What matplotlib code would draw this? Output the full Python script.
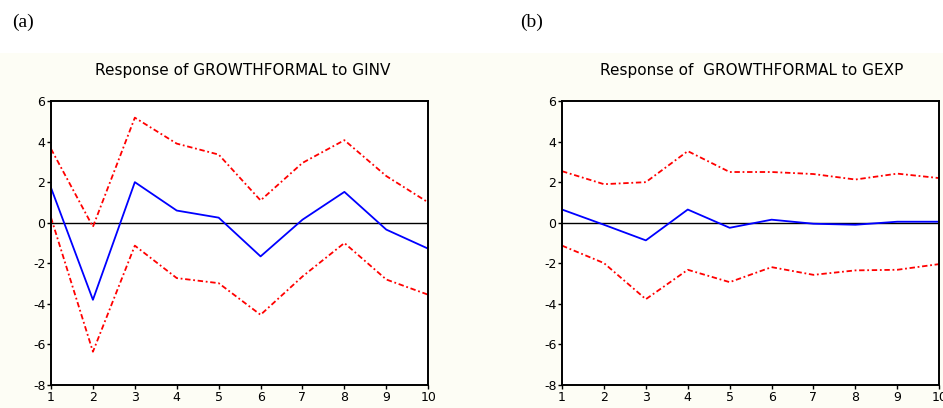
import matplotlib.pyplot as plt
from matplotlib.patches import Rectangle

plt.rcParams['font.family'] = ['DejaVu Sans']
plt.rcParams['axes.unicode_minus'] = False

periods = list(range(1, 11))

# (a) response of GROWTHFORMAL to GINV
ginv_resp = [1.72, -3.8, 2.0, 0.6, 0.25, -1.66, 0.15, 1.52, -0.34, -1.28]
ginv_upper = [3.64, -0.2, 5.18, 3.9, 3.36, 1.1, 2.95, 4.07, 2.3, 1.0]
ginv_lower = [0.25, -6.36, -1.13, -2.73, -2.98, -4.54, -2.65, -1.0, -2.8, -3.55]

# (b) response of GROWTHFORMAL to GEXP
gexp_resp = [0.65, -0.1, -0.87, 0.65, -0.25, 0.15, -0.05, -0.1, 0.05, 0.05]
gexp_upper = [2.54, 1.9, 2.0, 3.53, 2.5, 2.5, 2.4, 2.13, 2.42, 2.2]
gexp_lower = [-1.13, -1.99, -3.77, -2.32, -2.93, -2.19, -2.57, -2.35, -2.32, -2.04]

yticks = [6, 4, 2, 0, -2, -4, -6, -8]

fig = plt.figure(figsize=(9.43, 4.08), dpi=100)
fig.patches.append(Rectangle((0, 0), 1, 0.87, transform=fig.transFigure,
                             facecolor="#fdfdf5", edgecolor="none", zorder=-5))

panels = [
    ("(a)", "Response of GROWTHFORMAL to GINV", ginv_resp, ginv_upper, ginv_lower, 0.0541, 12, 0.257),
    ("(b)", "Response of  GROWTHFORMAL to GEXP", gexp_resp, gexp_upper, gexp_lower, 0.596, 520, 0.797),
]

for label, title, resp, upper, lower, left, lab_x, title_x in panels:
    ax = fig.add_axes([left, 0.0564, 0.4, 0.696])
    ax.set_facecolor("white")
    ax.axhline(0, color="black", lw=1.0)
    ax.plot(periods, upper, color="red", lw=1.3, ls=(0, (3, 1.5, 1, 1.5)))
    ax.plot(periods, lower, color="red", lw=1.3, ls=(0, (3, 1.5, 1, 1.5)))
    ax.plot(periods, resp, color="blue", lw=1.3)
    ax.set_xlim(1, 10)
    ax.set_ylim(-8, 6)
    ax.set_xticks(periods)
    ax.set_yticks(yticks)
    ax.tick_params(labelsize=9, length=3, width=1, pad=1)
    for s in ax.spines.values():
        s.set_linewidth(1.4)
    fig.text(lab_x / 943, 1 - 22 / 408, label, family="Liberation Serif",
             fontsize=14, va="center", ha="left")
    fig.text(title_x, 1 - 71 / 408, title, fontsize=11, va="center", ha="center")

fig.savefig("out.png", dpi=100, facecolor="white")
